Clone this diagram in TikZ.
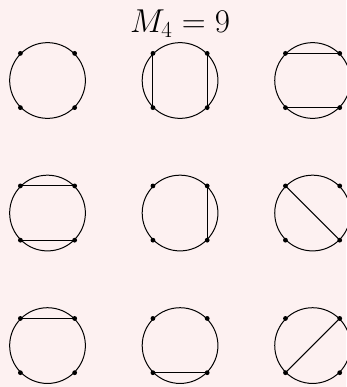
\documentclass[tikz,border=0pt]{standalone}
\usepackage{xcolor}
\usepackage{tikz}
\usetikzlibrary{positioning}
\definecolor{bgpink}{HTML}{FDF1F1}
\tikzset{
  ring/.style={draw, circle, minimum size=2cm, inner sep=0pt, line width=0.75pt},
  chord/.style={line width=0.75pt},
  pt/.style={fill=black}
}

\begin{document}
\begin{tikzpicture}
  \fill[bgpink] (-1.255,-8.094) rectangle (7.885,2.126);
  \useasboundingbox (-1.255,-8.094) rectangle (7.885,2.126);

  \node[anchor=base, font=\fontsize{23}{28}\selectfont] (title) at (3.5,1.26) {$M_4 = 9$};

  \node[ring] (a) at (0,0) {};
  \node[ring] (b) at (3.5,0) {};
  \node[ring] (c) at (7,0) {};
  \node[ring] (d) at (0,-3.5) {};
  \node[ring] (e) at (3.5,-3.5) {};
  \node[ring] (f) at (7,-3.5) {};
  \node[ring] (g) at (0,-7) {};
  \node[ring] (h) at (3.5,-7) {};
  \node[ring] (i) at (7,-7) {};

  % chords
  \draw[chord] (b.135) -- (b.225);
  \draw[chord] (b.45) -- (b.315);
  \draw[chord] (c.135) -- (c.45);
  \draw[chord] (c.225) -- (c.315);
  \draw[chord] (d.135) -- (d.45);
  \draw[chord] (d.225) -- (d.315);
  \draw[chord] (e.45) -- (e.315);
  \draw[chord] (f.135) -- (f.315);
  \draw[chord] (g.135) -- (g.45);
  \draw[chord] (h.225) -- (h.315);
  \draw[chord] (i.225) -- (i.45);

  % points
  \foreach \c in {a,b,c,d,e,f,g,h,i}
    \foreach \a in {45,135,225,315}
      \fill[pt] (\c.\a) circle (1.8pt);
\end{tikzpicture}
\end{document}
